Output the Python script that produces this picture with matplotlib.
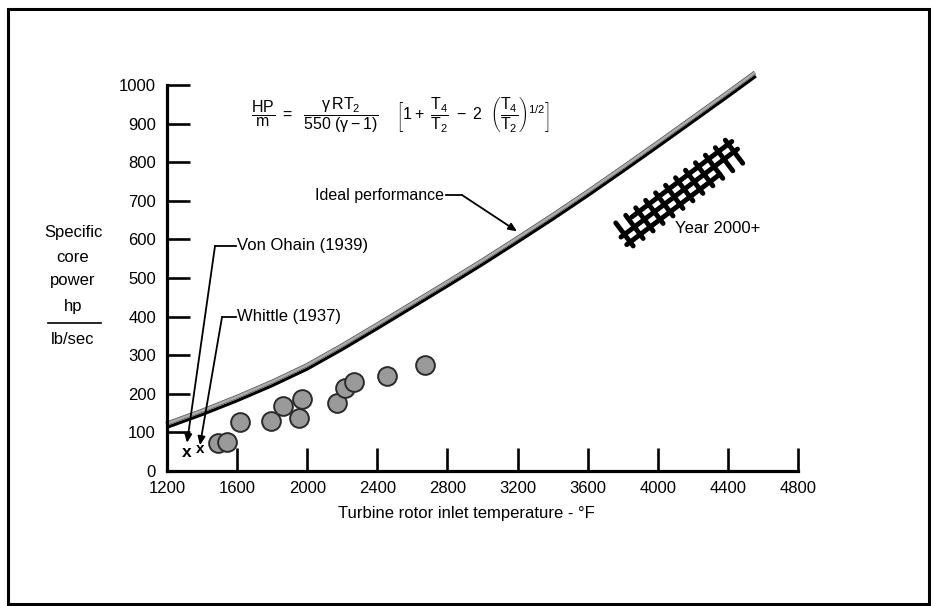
import numpy as np
import matplotlib
matplotlib.use('Agg')
import matplotlib.pyplot as plt
from matplotlib.transforms import offset_copy
from matplotlib.patches import Rectangle
import matplotlib.patheffects as pe

plt.rcParams['font.family'] = ['Liberation Sans', 'DejaVu Sans']
plt.rcParams['mathtext.fontset'] = 'custom'
plt.rcParams['mathtext.rm'] = 'Liberation Sans'
plt.rcParams['mathtext.it'] = 'Liberation Sans'
plt.rcParams['mathtext.bf'] = 'Liberation Sans:bold'

# -------------------------------------------------------------------------
# Data
# -------------------------------------------------------------------------
ideal_temp = [1200, 1400, 1600, 1800, 2000, 2200, 2400, 2600, 2800, 3000,
              3200, 3400, 3600, 3800, 4000, 4200, 4400, 4560]
ideal_hp = [113, 146, 182, 221, 264, 315, 369, 424, 479, 535,
            593, 652, 713, 776, 840, 905, 970, 1023]

engine_temp = [1493, 1541, 1617, 1792, 1864, 1955, 1969, 2172, 2216, 2267, 2457, 2672]
engine_hp = [73, 76, 128, 130, 168, 137, 186, 177, 216, 231, 246, 275]

early_names = ["Von Ohain (1939)", "Whittle (1937)"]
early_temp = [1314, 1388]
early_hp = [49, 57]

# Year 2000+ band: centre line ends
band_temp = [3790, 4455]
band_hp = [606, 834]

xticks = [1200, 1600, 2000, 2400, 2800, 3200, 3600, 4000, 4400, 4800]
yticks = [0, 100, 200, 300, 400, 500, 600, 700, 800, 900, 1000]

# -------------------------------------------------------------------------
# Figure
# -------------------------------------------------------------------------
W, H = 934, 606
fig = plt.figure(figsize=(W / 100, H / 100), dpi=100)
ax = fig.add_axes([167 / W, 1 - 471 / H, (798 - 167) / W, (471 - 85) / H])


def fx(px):
    return px / W


def fy(py):
    return 1 - py / H


# frame around the whole picture
fig.patches.append(Rectangle((fx(8), fy(604)), fx(929) - fx(8), fy(9) - fy(604),
                             transform=fig.transFigure, fill=False,
                             edgecolor='black', linewidth=2.2))

ax.set_xlim(1200, 4800)
ax.set_ylim(0, 1000)
for s in ['top', 'right']:
    ax.spines[s].set_visible(False)
for s in ['left', 'bottom']:
    ax.spines[s].set_linewidth(2.3)
ax.set_xticks(xticks)
ax.set_yticks(yticks)
ax.tick_params(direction='in', length=16.5, width=1.9, labelsize=12, pad=7)
ax.tick_params(axis='y', pad=8)

ax.set_xlabel("Turbine rotor inlet temperature - °F", fontsize=12)
ax.xaxis.set_label_coords((466 - 167) / (798 - 167), -0.09)

# y label as stacked lines
for txt, py in [("Specific", 233), ("core", 257), ("power", 281),
                ("hp", 307), ("lb/sec", 340)]:
    fig.text(fx(73), fy(py), txt, ha='center', va='center', fontsize=12)
fig.add_artist(plt.Line2D([fx(48), fx(101)], [fy(323), fy(323)],
                          color='black', linewidth=1.2))

# ideal curve: black line with grey hatched band just above
ax.plot(ideal_temp, ideal_hp, color='black', linewidth=2.2, clip_on=False,
        solid_capstyle='butt', solid_joinstyle='round')
tr_up = offset_copy(ax.transData, fig=fig, x=-1.0, y=3.6, units='dots')
ax.plot(ideal_temp, ideal_hp, color='#ababab', linewidth=1.9, clip_on=False,
        transform=tr_up, solid_capstyle='butt', solid_joinstyle='round',
        path_effects=[pe.Stroke(linewidth=2.9, foreground='#505050'), pe.Normal()])

# engine data points
ax.plot(engine_temp, engine_hp, 'o', markersize=13.5, markerfacecolor='#9a9a9a',
        markeredgecolor='#2a2a2a', markeredgewidth=1.4, clip_on=False)

# early engines
for t, h, fs in zip(early_temp, early_hp, [12.5, 11]):
    ax.text(t, h, "x", ha='center', va='center', fontsize=fs, fontweight='bold')

arrow = dict(arrowstyle='-|>,head_length=0.5,head_width=0.22', color='black',
             linewidth=1.3, shrinkA=0, shrinkB=0)

# Von Ohain
ax.plot([1474, 1594], [583, 583], color='black', linewidth=1.3)
ax.annotate("", xy=(early_temp[0], 73), xytext=(1474, 583), arrowprops=arrow)
ax.text(1600, 583, early_names[0], ha='left', va='center', fontsize=12)

# Whittle
ax.plot([1514, 1594], [399, 399], color='black', linewidth=1.3)
ax.annotate("", xy=(early_temp[1], 67), xytext=(1514, 399), arrowprops=arrow)
ax.text(1600, 399, early_names[1], ha='left', va='center', fontsize=12)

# Ideal performance label
ax.text(2780, 715, "Ideal performance", ha='right', va='center', fontsize=11.5)
ax.plot([2792, 2883], [715, 715], color='black', linewidth=1.3)
ax.annotate("", xy=(3197, 621), xytext=(2883, 715), arrowprops=arrow)

# Year 2000+ crosshatched band (built in pixel space, mapped back to data)
to_px = ax.transData
to_data = ax.transData.inverted()
p0 = to_px.transform((band_temp[0], band_hp[0]))
p1 = to_px.transform((band_temp[1], band_hp[1]))
d = p1 - p0
L = np.hypot(*d)
u = d / L
n = np.array([-u[1], u[0]])
rails = [(-9.5, 0.0, 0.80), (0.0, 0.0, 1.0), (9.5, 0.14, 1.0)]
for off, a, b in rails:
    q = np.array([p0 + d * a + n * off, p0 + d * b + n * off])
    qd = to_data.transform(q)
    ax.plot(qd[:, 0], qd[:, 1], color='black', linewidth=3.5,
            solid_capstyle='round')
for t in np.linspace(0.03, 0.97, 12):
    c = p0 + d * t
    q = np.array([c - n * 14.5, c + n * 14.5])
    qd = to_data.transform(q)
    ax.plot(qd[:, 0], qd[:, 1], color='black', linewidth=3.5,
            solid_capstyle='round')
ax.text(4100, 628, "Year 2000+", ha='left', va='center', fontsize=12)

# formula
formula = (r'$\dfrac{HP}{m}\ =\ \ \dfrac{\gamma\,RT_2}{550\ (\gamma - 1)}\quad\ '
           r'\left[1 +\ \dfrac{T_4}{T_2}\ -\ 2\ \ \left(\dfrac{T_4}{T_2}\right)^{1/2}\right]$')
fig.text(fx(400), fy(115), formula, ha='center', va='center', fontsize=11.5)

fig.savefig("out.png", dpi=100)
